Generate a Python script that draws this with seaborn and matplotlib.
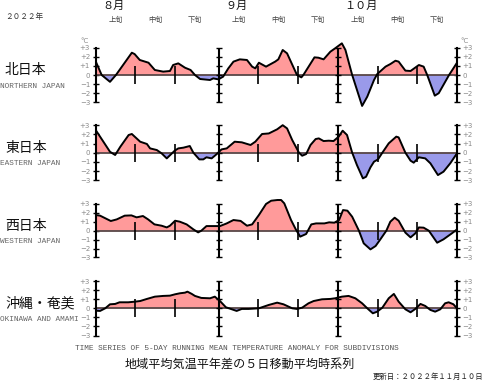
import numpy as np
import pandas as pd
import seaborn as sns
import matplotlib
matplotlib.use('Agg')
import matplotlib.pyplot as plt
from matplotlib.transforms import blended_transform_factory

sns.set_style('white')
plt.rcParams['font.family'] = ['Noto Sans CJK JP', 'DejaVu Sans']

# ---------------- data (day 0 = Aug 1) ----------------
north_days = [0, 1.5, 3.6, 5.1, 9.1, 9.8, 11.1, 13.3, 14.9, 17, 18.7, 19.5, 20.8, 22.5, 23.9,
              25, 26.3, 28.8, 29.6, 30.9, 32.1, 33.4, 34.7, 36.3, 38.1, 39.4, 40.2, 41.1, 42.9, 45.2,
              46, 47.1, 48.2, 50.7, 51.8, 52.3, 55.1, 56.1, 57.4, 59.1, 60.3, 62, 62.9, 64.6, 67.1,
              68.4, 70.1, 70.9, 73, 74.2, 75.5, 76.3, 78, 79.3, 81.4, 82.6, 83.5, 85.4, 86.4, 89, 91]
north_vals = [1.5, 0, -0.75, 0, 2.45, 2.3, 1.65, 1.35, 0.55, 0.37, 0.44, 1.1, 1.28, 0.8, 0.55,
              0, -0.44, -0.55, -0.37, -0.48, -0.18, 0.73, 1.47, 1.72, 1.65, 0.92, 0.73, 1.35, 0.92, 1.47,
              1.72, 2.75, 2.38, 0, -0.26, 0, 1.94, 1.9, 1.72, 2.56, 2.93, 3.48, 2.75, 0, -3.4,
              -2.38, -0.55, 0.1, 0.92, 1.2, 1.57, 1.47, 0.48, 0.44, 1.1, 0.92, 0, -2.27, -2.0, 0, 1.35]

east_days = [0, 1.1, 3.6, 4.9, 6.2, 8.3, 9.1, 11.2, 12.9, 13.7, 15.4, 16.6, 17.9, 19.9, 20.8,
             22.1, 23.7, 24.6, 26.1, 27.1, 27.9, 29.2, 30.4, 31.7, 33, 35, 36.8, 39, 40.2, 41.9,
             43.6, 45.7, 47.1, 48.2, 49.5, 51.2, 52, 53, 54.1, 55.4, 56.2, 57.4, 58.7, 59.9, 61.2,
             62.2, 63.3, 64.6, 65.8, 67.3, 68.1, 69.2, 70.1, 71.1, 72.2, 73.8, 75.7, 76.3, 78, 79.3,
             80.1, 81.4, 83, 84.3, 86.2, 87.6, 89.3, 91]
east_vals = [2.47, 1.75, 0.1, -0.25, 0.65, 1.93, 2.04, 1.2, 0.95, 0.47, 0.29, -0.07, -0.62, 0.22, 0.47,
             0.55, 0.73, 0, -0.73, -0.73, -0.5, -0.62, -0.18, 0.36, 0.47, 1.2, 1.13, 0.84, 1.2, 2.04,
             2.1, 2.55, 3.0, 2.65, 1.38, 0, -0.33, -0.15, 0.84, 1.49, 1.56, 1.27, 1.31, 1.27, 1.75,
             2.4, 1.93, 0, -1.35, -2.8, -2.62, -1.6, -0.98, -0.73, 0, 1.02, 1.75, 1.67, 0, -0.87,
             -1.09, -0.5, -0.62, -1.16, -2.44, -2.07, -1.16, -0.07]

west_days = [0, 1.1, 3.8, 5.3, 7.3, 9, 10.3, 11.9, 13.2, 14.8, 16.6, 17.9, 18.7, 20, 21.2,
             22.9, 24.6, 25.8, 26.6, 27.9, 29.6, 31.3, 33, 34.7, 36.5, 38.1, 39.4, 41.1, 42.9, 44.2,
             45.8, 46.7, 47.5, 49.2, 50.4, 51.5, 53, 54.3, 55.5, 57.6, 58.8, 60.1, 61.3, 62.3, 63.4,
             64.6, 66.3, 67.5, 69.2, 70.5, 71.7, 73.2, 74.2, 75.3, 76.3, 78, 79.3, 80.5, 81.4, 82.6,
             83.9, 86, 87.6, 89.7, 91]
west_vals = [1.76, 1.69, 1.09, 1.27, 1.69, 1.72, 1.5, 1.65, 1.27, 0.71, 0.56, 0.37, 0.56, 1.12, 1.01,
             0.71, 0.15, -0.19, 0, 0.52, 0.52, 0.52, 0.82, 1.2, 1.1, 0.56, 0.71, 1.76, 3.0, 3.37,
             3.45, 3.45, 3.07, 1.2, 0.15, -0.67, -0.37, 0.71, 0.82, 0.82, 0.94, 0.9, 1.2, 2.32, 2.25,
             1.57, 0, -1.42, -2.1, -1.72, -0.97, 0, 1.01, 1.46, 1.12, -0.22, -0.75, -0.3, 0.37, 0.34,
             0, -1.35, -0.97, -0.3, 0.15]

okinawa_days = [0, 1.1, 2.4, 3.6, 4.9, 6, 8.2, 9.9, 11.2, 12.9, 14.9, 17, 18.7, 20, 21.2,
                22.5, 23.1, 24.2, 25, 26.6, 28.8, 30, 31.3, 32.8, 34.3, 35.5, 36.8, 38.5, 41.1, 43.6,
                45.7, 47.3, 49.5, 50.7, 52, 53.6, 54.9, 57, 59.1, 60.3, 62, 63.7, 65.4, 67.1, 68.4,
                69.8, 70.9, 72.2, 73.8, 75.1, 76.3, 78, 79.3, 80.5, 81.8, 83, 84.3, 85.5, 86.8, 88,
                88.9, 90.1, 91]
okinawa_vals = [-0.26, -0.29, 0, 0.44, 0.48, 0.66, 0.66, 0.73, 0.8, 1.03, 1.28, 1.36, 1.39, 1.54, 1.65,
                1.72, 1.83, 1.58, 1.36, 1.14, 1.1, 1.28, 0.8, 0.11, -0.11, -0.29, -0.07, -0.07, 0, 0.37,
                0.62, 0.44, 0, -0.07, 0.07, 0.55, 0.8, 0.99, 1.03, 1.1, 1.28, 1.36, 1.1, 0.55, 0,
                -0.55, -0.37, 0.07, 1.1, 1.58, 0.73, -0.11, -0.44, -0.07, 0.48, 0.26, -0.18, -0.37, -0.11, 0.55,
                0.66, 0.44, 0]

region_jp = ['北日本', '東日本', '西日本', '沖縄・奄美']
region_en = ['NORTHERN JAPAN', 'EASTERN JAPAN', 'WESTERN JAPAN', 'OKINAWA AND AMAMI']
month_labels = ['８月', '９月', '１０月']
month_starts = [0, 31, 61]
dekad_labels = ['上旬', '中旬', '下旬']
dekad_bounds = [10, 20, 41, 51, 71, 81]
ytick_vals = [-3, -2, -1, 0, 1, 2, 3]
ytick_labels = ['\u22123', '\u22122', '\u22121', '0', '+1', '+2', '+3']
x_end = 91

series = [(north_days, north_vals), (east_days, east_vals),
          (west_days, west_vals), (okinawa_days, okinawa_vals)]

# ---------------- layout ----------------
W, H = 484, 382
fig = plt.figure(figsize=(W / 100, H / 100), dpi=100)
X0, X1 = 95.7, 457.0
zero_px = [75.0, 152.7, 230.7, 308.3]
unit_px = [9.1, 9.17, 8.9, 9.1]
YL = 4.0

POS = '#ff9a9a'
NEG = '#9a9aea'
ZERO = '#584646'
TICKC = '#8a8a8a'

axes = []
for i, (d, v) in enumerate(series):
    d = np.asarray(d, float)
    v = np.asarray(v, float)
    top = zero_px[i] - YL * unit_px[i]
    bot = zero_px[i] + YL * unit_px[i]
    ax = fig.add_axes([X0 / W, 1 - bot / H, (X1 - X0) / W, (bot - top) / H])
    ax.set_facecolor('none')
    axes.append(ax)

    ax.fill_between(d, v, 0, where=v >= 0, interpolate=True, color=POS, lw=0, zorder=1)
    ax.fill_between(d, v, 0, where=v <= 0, interpolate=True, color=NEG, lw=0, zorder=1)
    ax.axhline(0, color=ZERO, lw=1.3, zorder=2)

    # month boundaries with integer marks
    ax.vlines(month_starts[1:], -3, 3, color='black', lw=1.5, zorder=3)
    for m in month_starts[1:]:
        ax.plot([m] * len(ytick_vals), ytick_vals, ls='none', marker='_', ms=5,
                mew=1, color='black', zorder=3)
    # dekad marks
    ax.vlines(dekad_bounds, -1, 1, color='black', lw=1.2, zorder=3)

    sns.lineplot(x=d, y=v, ax=ax, color='black', lw=1.4, zorder=5, sort=False)

    ax.set_xlim(0, x_end)
    ax.set_ylim(-YL, YL)
    ax.set_xticks([])
    ax.set_yticks(ytick_vals)
    ax.set_yticklabels(ytick_labels, fontfamily='DejaVu Sans')
    ax.set_xlabel('')
    ax.set_ylabel('')
    for s in ['top', 'bottom']:
        ax.spines[s].set_visible(False)
    for s in ['left', 'right']:
        ax.spines[s].set_visible(True)
        ax.spines[s].set_bounds(-3, 3)
        ax.spines[s].set_linewidth(1.5)
        ax.spines[s].set_color('black')
    ax.tick_params(axis='y', which='both', left=True, right=True, labelleft=True,
                   labelright=True, direction='inout', length=5, width=1,
                   color='black', labelsize=5, labelcolor=TICKC, pad=1.5)

    # region names
    fig.text(5 / W, 1 - (zero_px[i] - 5) / H, region_jp[i], fontsize=10,
             ha='left', va='center', color='#111111')
    fig.text(0.5 / W, 1 - (zero_px[i] + 11) / H, region_en[i], fontsize=5.6,
             family='Liberation Mono', ha='left', va='center', color='#666666')

# degree labels on top panel
ax0 = axes[0]
ax0.text(-2.8, 3.75, '°C', fontsize=5, color=TICKC, ha='center', va='center',
         fontfamily='DejaVu Sans')
ax0.text(x_end + 1.8, 3.75, '°C', fontsize=5, color=TICKC, ha='center', va='center',
         fontfamily='DejaVu Sans')

# month and dekad labels
trans = blended_transform_factory(ax0.transData, fig.transFigure)
for lab, ms in zip(month_labels, month_starts):
    ax0.text(ms + 1.7, 1 - 6 / H, lab, transform=trans, fontsize=8, ha='left',
             va='center', color='#111111')
    for k, dl in enumerate(dekad_labels):
        ax0.text(ms + 10 * k + 5, 1 - 19.5 / H, dl, transform=trans, fontsize=5.2,
                 ha='center', va='center', color='#444444')

fig.text(5 / W, 1 - 16.5 / H, '２０２２年', fontsize=5.5, ha='left', va='center',
         color='#333333')
fig.text(236.5 / W, 1 - 348 / H,
         'TIME SERIES OF 5-DAY RUNNING MEAN TEMPERATURE ANOMALY FOR SUBDIVISIONS',
         fontsize=5.6, family='Liberation Mono', ha='center', va='center', color='#555555')
fig.text(240 / W, 1 - 364 / H, '地域平均気温平年差の５日移動平均時系列', fontsize=8.7,
         ha='center', va='center', color='#111111')
fig.text(483 / W, 1 - 376.5 / H, '更新日：２０２２年１１月１０日', fontsize=5.3,
         ha='right', va='center', color='#222222')

fig.savefig('out.png', dpi=100)
